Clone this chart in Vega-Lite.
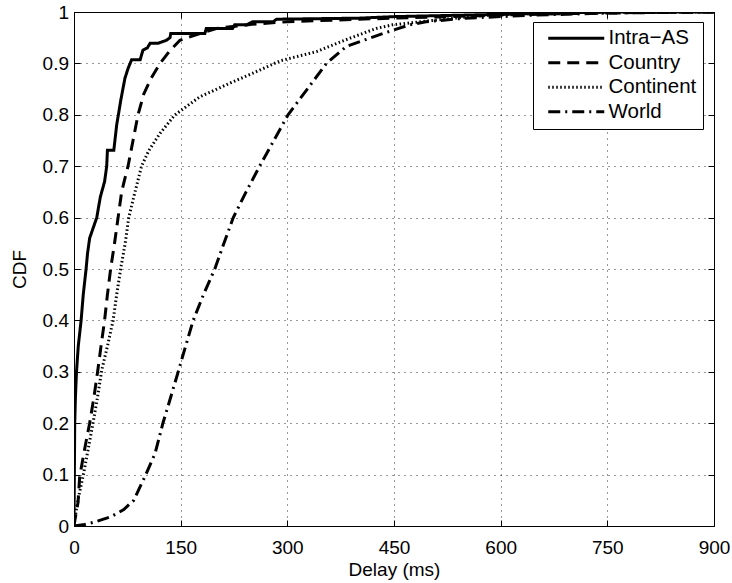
{
  "$schema": "https://vega.github.io/schema/vega-lite/v6.json",
  "width": 640,
  "height": 514,
  "autosize": {"type": "none"},
  "padding": {"left": 74, "top": 12, "right": 18, "bottom": 57},
  "background": "white",
  "config": {
    "view": {"stroke": "#000", "strokeWidth": 1},
    "font": "Liberation Sans",
    "axis": {
      "labelFont": "Liberation Sans",
      "titleFont": "Liberation Sans",
      "labelFontSize": 19,
      "titleFontSize": 19,
      "labelColor": "#000",
      "titleColor": "#000",
      "titleFontWeight": "normal",
      "tickColor": "#000",
      "tickSize": -6,
      "tickWidth": 1,
      "domain": false,
      "gridColor": "#000",
      "gridDash": [1, 5],
      "gridOpacity": 0.8,
      "gridWidth": 1
    },
    "legend": {
      "orient": "none",
      "legendX": 459,
      "legendY": 10,
      "labelFont": "Liberation Sans",
      "labelFontSize": 20.5,
      "labelColor": "#000",
      "symbolType": "M-4,0L4,0",
      "symbolSize": 196,
      "symbolStrokeColor": "#000",
      "strokeColor": "#000",
      "fillColor": "#fff",
      "padding": 6,
      "rowPadding": 3.5,
      "symbolOffset": 27,
      "labelOffset": 22,
      "cornerRadius": 0
    }
  },
  "data": {
    "values": [
      {"s": "Intra−AS", "x": 0, "y": 0},
      {"s": "Intra−AS", "x": 0.5, "y": 0.1},
      {"s": "Intra−AS", "x": 1, "y": 0.2},
      {"s": "Intra−AS", "x": 2, "y": 0.25},
      {"s": "Intra−AS", "x": 3.5, "y": 0.3},
      {"s": "Intra−AS", "x": 6, "y": 0.35},
      {"s": "Intra−AS", "x": 10, "y": 0.4},
      {"s": "Intra−AS", "x": 13, "y": 0.45},
      {"s": "Intra−AS", "x": 17, "y": 0.5},
      {"s": "Intra−AS", "x": 19, "y": 0.53},
      {"s": "Intra−AS", "x": 22, "y": 0.56},
      {"s": "Intra−AS", "x": 27, "y": 0.58},
      {"s": "Intra−AS", "x": 32, "y": 0.6},
      {"s": "Intra−AS", "x": 37, "y": 0.64},
      {"s": "Intra−AS", "x": 43, "y": 0.67},
      {"s": "Intra−AS", "x": 46, "y": 0.7},
      {"s": "Intra−AS", "x": 47, "y": 0.731},
      {"s": "Intra−AS", "x": 56, "y": 0.731},
      {"s": "Intra−AS", "x": 60, "y": 0.78},
      {"s": "Intra−AS", "x": 66, "y": 0.83},
      {"s": "Intra−AS", "x": 71.6, "y": 0.871},
      {"s": "Intra−AS", "x": 76, "y": 0.89},
      {"s": "Intra−AS", "x": 81, "y": 0.907},
      {"s": "Intra−AS", "x": 93, "y": 0.907},
      {"s": "Intra−AS", "x": 97, "y": 0.926},
      {"s": "Intra−AS", "x": 103, "y": 0.93},
      {"s": "Intra−AS", "x": 107, "y": 0.939},
      {"s": "Intra−AS", "x": 118, "y": 0.939},
      {"s": "Intra−AS", "x": 130, "y": 0.945},
      {"s": "Intra−AS", "x": 135, "y": 0.95},
      {"s": "Intra−AS", "x": 136, "y": 0.958},
      {"s": "Intra−AS", "x": 184, "y": 0.958},
      {"s": "Intra−AS", "x": 186, "y": 0.968},
      {"s": "Intra−AS", "x": 223, "y": 0.968},
      {"s": "Intra−AS", "x": 226, "y": 0.975},
      {"s": "Intra−AS", "x": 243, "y": 0.975},
      {"s": "Intra−AS", "x": 251, "y": 0.981},
      {"s": "Intra−AS", "x": 280, "y": 0.981},
      {"s": "Intra−AS", "x": 285, "y": 0.986},
      {"s": "Intra−AS", "x": 400, "y": 0.988},
      {"s": "Intra−AS", "x": 450, "y": 0.991},
      {"s": "Intra−AS", "x": 550, "y": 0.994},
      {"s": "Intra−AS", "x": 650, "y": 0.997},
      {"s": "Intra−AS", "x": 750, "y": 1},
      {"s": "Intra−AS", "x": 900, "y": 1},

      {"s": "Country", "x": 0, "y": 0},
      {"s": "Country", "x": 1, "y": 0.01},
      {"s": "Country", "x": 5.6, "y": 0.045},
      {"s": "Country", "x": 8, "y": 0.096},
      {"s": "Country", "x": 15, "y": 0.15},
      {"s": "Country", "x": 22, "y": 0.2},
      {"s": "Country", "x": 28, "y": 0.25},
      {"s": "Country", "x": 33.5, "y": 0.303},
      {"s": "Country", "x": 38, "y": 0.35},
      {"s": "Country", "x": 43, "y": 0.4},
      {"s": "Country", "x": 47, "y": 0.45},
      {"s": "Country", "x": 51.5, "y": 0.5},
      {"s": "Country", "x": 57, "y": 0.55},
      {"s": "Country", "x": 62, "y": 0.6},
      {"s": "Country", "x": 67, "y": 0.65},
      {"s": "Country", "x": 71, "y": 0.673},
      {"s": "Country", "x": 76, "y": 0.7},
      {"s": "Country", "x": 83, "y": 0.75},
      {"s": "Country", "x": 90, "y": 0.8},
      {"s": "Country", "x": 98, "y": 0.84},
      {"s": "Country", "x": 108, "y": 0.87},
      {"s": "Country", "x": 121, "y": 0.9},
      {"s": "Country", "x": 135, "y": 0.925},
      {"s": "Country", "x": 149, "y": 0.945},
      {"s": "Country", "x": 177, "y": 0.958},
      {"s": "Country", "x": 200, "y": 0.968},
      {"s": "Country", "x": 250, "y": 0.976},
      {"s": "Country", "x": 300, "y": 0.981},
      {"s": "Country", "x": 400, "y": 0.986},
      {"s": "Country", "x": 500, "y": 0.99},
      {"s": "Country", "x": 600, "y": 0.994},
      {"s": "Country", "x": 700, "y": 0.997},
      {"s": "Country", "x": 800, "y": 0.999},
      {"s": "Country", "x": 900, "y": 1},

      {"s": "Continent", "x": 0, "y": 0},
      {"s": "Continent", "x": 3, "y": 0.03},
      {"s": "Continent", "x": 7, "y": 0.06},
      {"s": "Continent", "x": 12.6, "y": 0.096},
      {"s": "Continent", "x": 20, "y": 0.15},
      {"s": "Continent", "x": 26.7, "y": 0.2},
      {"s": "Continent", "x": 33, "y": 0.25},
      {"s": "Continent", "x": 39, "y": 0.303},
      {"s": "Continent", "x": 47, "y": 0.35},
      {"s": "Continent", "x": 55, "y": 0.4},
      {"s": "Continent", "x": 60, "y": 0.45},
      {"s": "Continent", "x": 65.6, "y": 0.5},
      {"s": "Continent", "x": 72, "y": 0.55},
      {"s": "Continent", "x": 77, "y": 0.6},
      {"s": "Continent", "x": 84, "y": 0.64},
      {"s": "Continent", "x": 90, "y": 0.673},
      {"s": "Continent", "x": 95, "y": 0.7},
      {"s": "Continent", "x": 105, "y": 0.73},
      {"s": "Continent", "x": 121, "y": 0.764},
      {"s": "Continent", "x": 142, "y": 0.8},
      {"s": "Continent", "x": 177, "y": 0.835},
      {"s": "Continent", "x": 220, "y": 0.862},
      {"s": "Continent", "x": 250, "y": 0.88},
      {"s": "Continent", "x": 290, "y": 0.905},
      {"s": "Continent", "x": 341, "y": 0.923},
      {"s": "Continent", "x": 388, "y": 0.949},
      {"s": "Continent", "x": 425, "y": 0.968},
      {"s": "Continent", "x": 448, "y": 0.975},
      {"s": "Continent", "x": 500, "y": 0.983},
      {"s": "Continent", "x": 550, "y": 0.99},
      {"s": "Continent", "x": 600, "y": 0.995},
      {"s": "Continent", "x": 700, "y": 0.999},
      {"s": "Continent", "x": 900, "y": 1},

      {"s": "World", "x": 0, "y": 0},
      {"s": "World", "x": 15, "y": 0.003},
      {"s": "World", "x": 30, "y": 0.008},
      {"s": "World", "x": 52, "y": 0.018},
      {"s": "World", "x": 70, "y": 0.032},
      {"s": "World", "x": 84, "y": 0.05},
      {"s": "World", "x": 100, "y": 0.097},
      {"s": "World", "x": 114, "y": 0.141},
      {"s": "World", "x": 125, "y": 0.2},
      {"s": "World", "x": 132, "y": 0.232},
      {"s": "World", "x": 146.5, "y": 0.3},
      {"s": "World", "x": 157, "y": 0.35},
      {"s": "World", "x": 167.6, "y": 0.4},
      {"s": "World", "x": 182, "y": 0.45},
      {"s": "World", "x": 198, "y": 0.5},
      {"s": "World", "x": 209, "y": 0.543},
      {"s": "World", "x": 224, "y": 0.6},
      {"s": "World", "x": 242, "y": 0.65},
      {"s": "World", "x": 261, "y": 0.7},
      {"s": "World", "x": 281, "y": 0.75},
      {"s": "World", "x": 301, "y": 0.8},
      {"s": "World", "x": 327, "y": 0.848},
      {"s": "World", "x": 355, "y": 0.9},
      {"s": "World", "x": 383, "y": 0.933},
      {"s": "World", "x": 434, "y": 0.958},
      {"s": "World", "x": 472, "y": 0.975},
      {"s": "World", "x": 495, "y": 0.981},
      {"s": "World", "x": 550, "y": 0.988},
      {"s": "World", "x": 650, "y": 0.994},
      {"s": "World", "x": 750, "y": 0.998},
      {"s": "World", "x": 900, "y": 1}
    ]
  },
  "layer": [
    {
      "mark": {"type": "line", "color": "#000", "clip": true},
      "encoding": {
        "x": {
          "field": "x", "type": "quantitative",
          "scale": {"domain": [0, 900], "nice": false, "zero": false},
          "axis": {
            "orient": "bottom",
            "values": [0, 150, 300, 450, 600, 750, 900],
            "title": "Delay (ms)",
            "titleY": 49,
            "titleBaseline": "alphabetic",
            "labelBaseline": "alphabetic",
            "labelPadding": 33,
            "labelFlush": false,
            "labelOverlap": false,
            "grid": true
          }
        },
        "y": {
          "field": "y", "type": "quantitative",
          "scale": {"domain": [0, 1], "nice": false, "zero": false},
          "axis": {
            "orient": "left",
            "values": [0, 0.1, 0.2, 0.3, 0.4, 0.5, 0.6, 0.7, 0.8, 0.9, 1],
            "format": "~g",
            "title": "CDF",
            "titleX": -49,
            "titleY": 257,
            "titleAngle": 270,
            "titleAlign": "center",
            "titleBaseline": "alphabetic",
            "labelPadding": 11.5,
            "labelFlush": false,
            "labelOverlap": false,
            "grid": true
          }
        },
        "strokeDash": {
          "field": "s", "type": "nominal",
          "scale": {
            "domain": ["Intra−AS", "Country", "Continent", "World"],
            "range": [[1, 0], [12, 7], [1.5, 2.5], [12, 5, 2, 5]]
          },
          "legend": {"title": null}
        },
        "strokeWidth": {
          "field": "s", "type": "nominal",
          "scale": {
            "domain": ["Intra−AS", "Country", "Continent", "World"],
            "range": [3, 3, 1.3, 3]
          },
          "legend": {"title": null}
        }
      }
    },
    {
      "mark": {"type": "point", "opacity": 0},
      "encoding": {
        "x": {
          "field": "x", "type": "quantitative",
          "axis": {"orient": "top", "values": [0, 150, 300, 450, 600, 750, 900], "labels": false, "title": null, "grid": false}
        },
        "y": {
          "field": "y", "type": "quantitative",
          "axis": {"orient": "right", "values": [0, 0.1, 0.2, 0.3, 0.4, 0.5, 0.6, 0.7, 0.8, 0.9, 1], "labels": false, "title": null, "grid": false}
        }
      }
    }
  ],
  "resolve": {"axis": {"x": "independent", "y": "independent"}}
}
